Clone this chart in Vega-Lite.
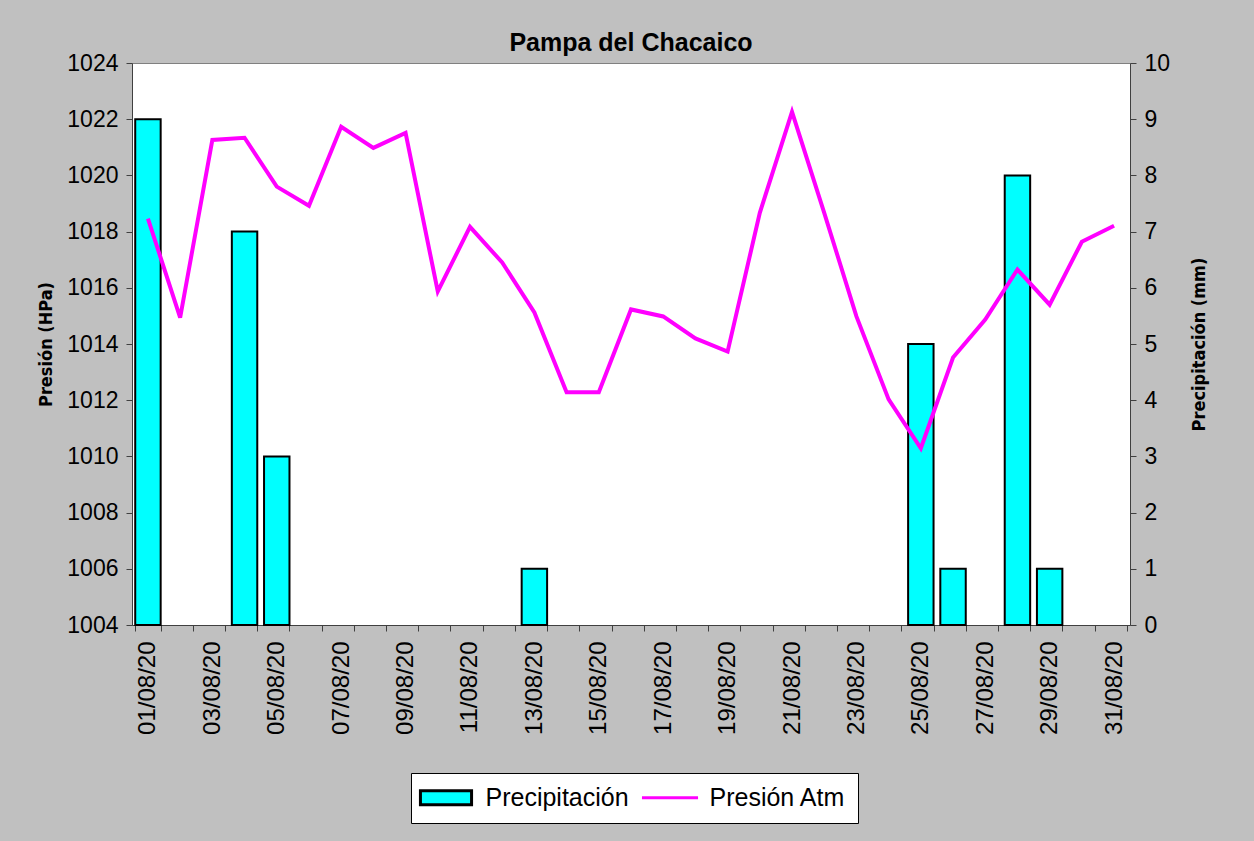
{
  "$schema": "https://vega.github.io/schema/vega-lite/v6.json",
  "width": 998,
  "height": 562,
  "autosize": {"type": "none"},
  "padding": {"left": 132, "top": 63, "right": 124, "bottom": 216},
  "background": "#C0C0C0",
  "title": {"text": "Pampa del Chacaico", "font": "Liberation Sans", "fontSize": 25, "fontWeight": "bold", "color": "#000000", "anchor": "middle", "offset": -4},
  "config": {
    "view": {"fill": "#FFFFFF", "stroke": "#808080", "strokeWidth": 1},
    "axis": {"labelFont": "Liberation Sans", "labelColor": "#000000", "domainColor": "#404040", "tickColor": "#404040", "tickSize": 6, "grid": false, "titleColor": "#000000"},
    "legend": {"orient": "none", "legendX": 279, "legendY": 710, "direction": "horizontal", "fillColor": "#FFFFFF", "strokeColor": "#000000", "padding": 12, "labelFont": "Liberation Sans", "labelFontSize": 25, "labelColor": "#000000", "symbolSize": 272, "symbolOffset": 10.5, "labelOffset": 27, "columnPadding": 6, "symbolStrokeWidth": 3}
  },
  "data": {"values": [
    {"fecha": "01/08/20", "precip": 9, "presion": 1018.46},
    {"fecha": "02/08/20", "precip": 0, "presion": 1014.94},
    {"fecha": "03/08/20", "precip": 0, "presion": 1021.26},
    {"fecha": "04/08/20", "precip": 7, "presion": 1021.34},
    {"fecha": "05/08/20", "precip": 3, "presion": 1019.6},
    {"fecha": "06/08/20", "precip": 0, "presion": 1018.92},
    {"fecha": "07/08/20", "precip": 0, "presion": 1021.73},
    {"fecha": "08/08/20", "precip": 0, "presion": 1020.98},
    {"fecha": "09/08/20", "precip": 0, "presion": 1021.51},
    {"fecha": "10/08/20", "precip": 0, "presion": 1015.87},
    {"fecha": "11/08/20", "precip": 0, "presion": 1018.17},
    {"fecha": "12/08/20", "precip": 0, "presion": 1016.9},
    {"fecha": "13/08/20", "precip": 1, "presion": 1015.12},
    {"fecha": "14/08/20", "precip": 0, "presion": 1012.28},
    {"fecha": "15/08/20", "precip": 0, "presion": 1012.28},
    {"fecha": "16/08/20", "precip": 0, "presion": 1015.23},
    {"fecha": "17/08/20", "precip": 0, "presion": 1014.98},
    {"fecha": "18/08/20", "precip": 0, "presion": 1014.2},
    {"fecha": "19/08/20", "precip": 0, "presion": 1013.73},
    {"fecha": "20/08/20", "precip": 0, "presion": 1018.67},
    {"fecha": "21/08/20", "precip": 0, "presion": 1022.26},
    {"fecha": "22/08/20", "precip": 0, "presion": 1018.67},
    {"fecha": "23/08/20", "precip": 0, "presion": 1014.98},
    {"fecha": "24/08/20", "precip": 0, "presion": 1012.03},
    {"fecha": "25/08/20", "precip": 5, "presion": 1010.29},
    {"fecha": "26/08/20", "precip": 1, "presion": 1013.52},
    {"fecha": "27/08/20", "precip": 0, "presion": 1014.87},
    {"fecha": "28/08/20", "precip": 8, "presion": 1016.65},
    {"fecha": "29/08/20", "precip": 1, "presion": 1015.4},
    {"fecha": "30/08/20", "precip": 0, "presion": 1017.64},
    {"fecha": "31/08/20", "precip": 0, "presion": 1018.21}
  ]},
  "encoding": {
    "x": {
      "field": "fecha", "type": "ordinal", "sort": null,
      "scale": {"paddingInner": 0.21, "paddingOuter": 0.1,
        "domain": ["01/08/20","02/08/20","03/08/20","04/08/20","05/08/20","06/08/20","07/08/20","08/08/20","09/08/20","10/08/20","11/08/20","12/08/20","13/08/20","14/08/20","15/08/20","16/08/20","17/08/20","18/08/20","19/08/20","20/08/20","21/08/20","22/08/20","23/08/20","24/08/20","25/08/20","26/08/20","27/08/20","28/08/20","29/08/20","30/08/20","31/08/20"]},
      "axis": {"title": null, "labelAngle": 270, "labelFontSize": 24, "labelPadding": 10, "tickBand": "extent",
        "labelExpr": "parseInt(substring(datum.label,0,2)) % 2 == 1 ? datum.label : ''"}
    }
  },
  "layer": [
    {
      "transform": [{"filter": "datum.precip > 0"}],
      "mark": {"type": "bar", "fill": "#00FFFF", "stroke": "#000000", "strokeWidth": 2},
      "encoding": {
        "y": {"field": "precip", "type": "quantitative",
          "scale": {"domain": [0, 10], "nice": false},
          "axis": {"orient": "right", "title": "Precipitación (mm)", "values": [0,1,2,3,4,5,6,7,8,9,10], "format": "d",
            "labelFontSize": 23, "labelPadding": 8, "titleFont": "DejaVu Sans Condensed", "titleFontSize": 18, "titleFontWeight": "bold", "titleAngle": 270, "titlePadding": 39}}
      }
    },
    {
      "mark": {"type": "line", "stroke": "#FF00FF", "strokeWidth": 4},
      "encoding": {
        "y": {"field": "presion", "type": "quantitative",
          "scale": {"domain": [1004, 1024], "nice": false, "zero": false},
          "axis": {"orient": "left", "title": "Presión (HPa)", "values": [1004,1006,1008,1010,1012,1014,1016,1018,1020,1022,1024], "format": "d",
            "labelFontSize": 23, "labelPadding": 8, "titleFont": "DejaVu Sans Condensed", "titleFontSize": 18, "titleFontWeight": "bold", "titlePadding": 11}}
      }
    },
    {
      "transform": [{"filter": "false"}],
      "mark": {"type": "point", "strokeWidth": 3, "opacity": 1},
      "encoding": {
        "fill": {"datum": "Precipitación", "type": "nominal",
          "scale": {"domain": ["Precipitación", "Presión Atm"], "range": ["#00FFFF", "transparent"]},
          "legend": {"title": null}},
        "stroke": {"datum": "Precipitación", "type": "nominal",
          "scale": {"domain": ["Precipitación", "Presión Atm"], "range": ["#000000", "#FF00FF"]},
          "legend": {"title": null}},
        "shape": {"datum": "Precipitación", "type": "nominal",
          "scale": {"domain": ["Precipitación", "Presión Atm"], "range": ["M-3.1,-0.85H3.1V0.85H-3.1Z", "M-3.4,0H3.4"]},
          "legend": {"title": null}}
      }
    }
  ],
  "resolve": {"scale": {"y": "independent"}}
}
